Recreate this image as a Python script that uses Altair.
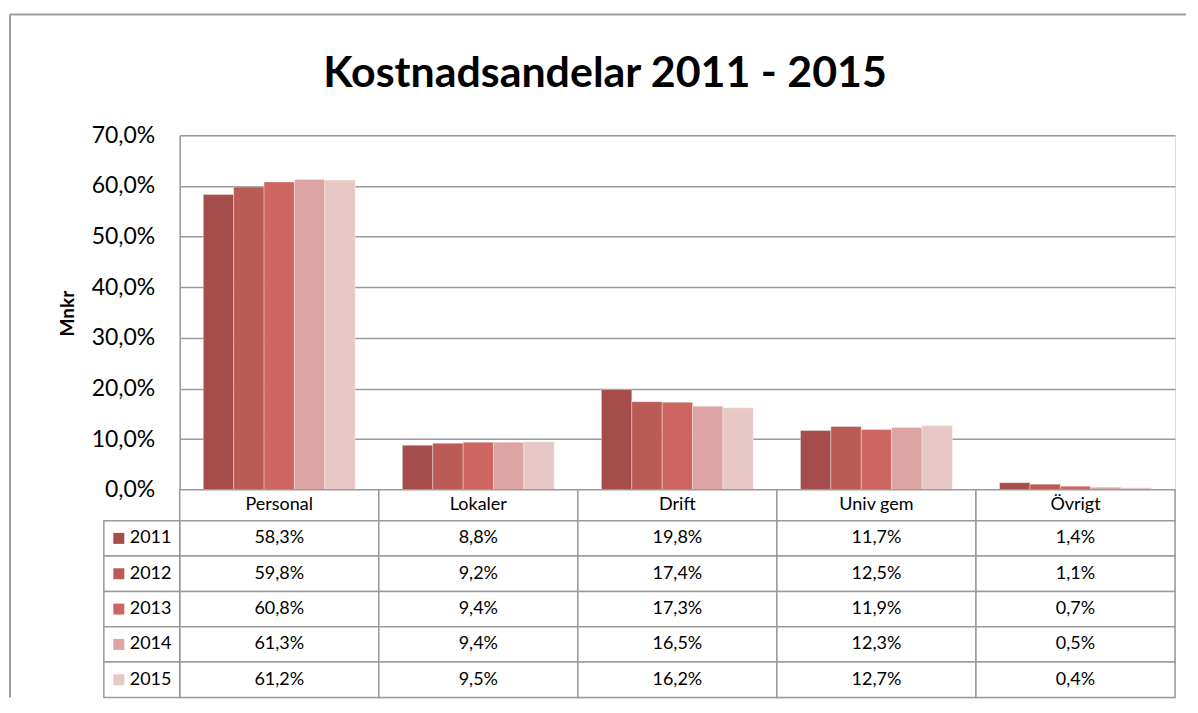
import altair as alt
import pandas as pd

categories = ["Personal", "Lokaler", "Drift", "Univ gem", "Övrigt"]
years = ["2011", "2012", "2013", "2014", "2015"]
share_2011 = [58.3, 8.8, 19.8, 11.7, 1.4]
share_2012 = [59.8, 9.2, 17.4, 12.5, 1.1]
share_2013 = [60.8, 9.4, 17.3, 11.9, 0.7]
share_2014 = [61.3, 9.4, 16.5, 12.3, 0.5]
share_2015 = [61.2, 9.5, 16.2, 12.7, 0.4]
colors = ["#A54D4A", "#BA5B55", "#CD6661", "#DCA5A4", "#E7C8C7"]
y_ticks = [0, 10, 20, 30, 40, 50, 60, 70]
title_text = "Kostnadsandelar 2011 - 2015"

series = {"2011": share_2011, "2012": share_2012, "2013": share_2013,
          "2014": share_2014, "2015": share_2015}
df = pd.DataFrame([{"kategori": c, "år": y, "andel": v}
                   for y, vals in series.items() for c, v in zip(categories, vals)])
hdr_df = pd.DataFrame({"kategori": categories})
year_df = pd.DataFrame({"år": years})
one_df = pd.DataFrame({"titel": [title_text]})

FONT = "Lato"
GRID = "#9a9a9a"
FRAME = "#a0a0a0"
W, H = 997, 355
HH = 31          # header row height
BH = 177         # body rows height (5 rows)

color = alt.Color("år:N", scale=alt.Scale(domain=years, range=colors), legend=None)
pct_expr = "replace(format(datum.value, '.1f'), '.', ',') + '%'"

bars = alt.Chart(df).mark_bar(stroke="white", strokeOpacity=0.35, strokeWidth=1).encode(
    x=alt.X("kategori:N", sort=categories, axis=None,
            scale=alt.Scale(paddingInner=0.237, paddingOuter=0.1185)),
    xOffset=alt.XOffset("år:N", sort=years, scale=alt.Scale(paddingInner=0, paddingOuter=0)),
    y=alt.Y("andel:Q", scale=alt.Scale(domain=[0, 70], nice=False),
            axis=alt.Axis(values=y_ticks, labelExpr=pct_expr, title="Mnkr",
                          ticks=False, labelPadding=25, labelFontSize=23, labelFont=FONT,
                          labelColor="#000", domainColor=GRID, domainWidth=1.5,
                          gridColor=GRID, gridWidth=1.5,
                          titleFont=FONT, titleFontSize=19, titleFontWeight="bold",
                          titleColor="#000", titleAngle=270, titleX=-112, titleY=178,
                          titleAlign="center", titleBaseline="middle")),
    color=color,
)
title_mark = alt.Chart(one_df).mark_text(font=FONT, fontSize=43, fontWeight="bold",
                                         color="#000", align="center",
                                         baseline="alphabetic").encode(
    x=alt.value(426), y=alt.value(-48), text="titel:N")
top = alt.layer(bars, title_mark).properties(width=W, height=H)

x_tab = alt.X("kategori:N", sort=categories, axis=None,
              scale=alt.Scale(paddingInner=0, paddingOuter=0))
y_tab = alt.Y("år:N", sort=years, axis=None, scale=alt.Scale(paddingInner=0, paddingOuter=0))

header_cells = alt.Chart(hdr_df).mark_rect(fill="white", stroke=GRID, strokeWidth=1.5).encode(
    x=x_tab, y=alt.value(0), y2=alt.value(HH))
header_text = alt.Chart(hdr_df).mark_text(font=FONT, fontSize=18, baseline="middle",
                                          color="#000").encode(
    x=x_tab, y=alt.value(HH / 2), text="kategori:N")
frame_left = alt.Chart(one_df).mark_rule(color=FRAME, strokeWidth=2).encode(
    x=alt.value(-170), y=alt.value(-476), y2=alt.value(HH + BH))
frame_top = alt.Chart(one_df).mark_rule(color=FRAME, strokeWidth=2).encode(
    x=alt.value(-170), x2=alt.value(1008), y=alt.value(-476))
header = alt.layer(header_cells, header_text, frame_left, frame_top).properties(width=W, height=HH)

body_cells = alt.Chart(df).mark_rect(fill="white", stroke=GRID, strokeWidth=1.5).encode(
    x=x_tab, y=y_tab)
body_text = alt.Chart(df).transform_calculate(
    label="replace(format(datum.andel, '.1f'), '.', ',') + '%'"
).mark_text(font=FONT, fontSize=18, baseline="middle", color="#000").encode(
    x=x_tab, y=y_tab, text="label:N")
left_cells = alt.Chart(year_df).mark_rect(fill="white", stroke=GRID, strokeWidth=1.5).encode(
    x=alt.value(-76), x2=alt.value(0), y=y_tab)
swatch = alt.Chart(year_df).mark_square(size=121, opacity=1).encode(
    x=alt.value(-61), y=y_tab, color=color)
year_text = alt.Chart(year_df).mark_text(font=FONT, fontSize=18, align="left",
                                         baseline="middle", color="#000").encode(
    x=alt.value(-50), y=y_tab, text="år:N")
body = alt.layer(body_cells, body_text, left_cells, swatch, year_text).properties(width=W, height=BH)

chart = alt.vconcat(top, header, body, spacing=0, bounds="flush").properties(
    padding={"left": 0, "top": 4, "right": 2, "bottom": 2}
).configure_view(stroke=None).configure(font=FONT)

chart.save("out.html", embed_options={"renderer": "svg", "actions": False})
